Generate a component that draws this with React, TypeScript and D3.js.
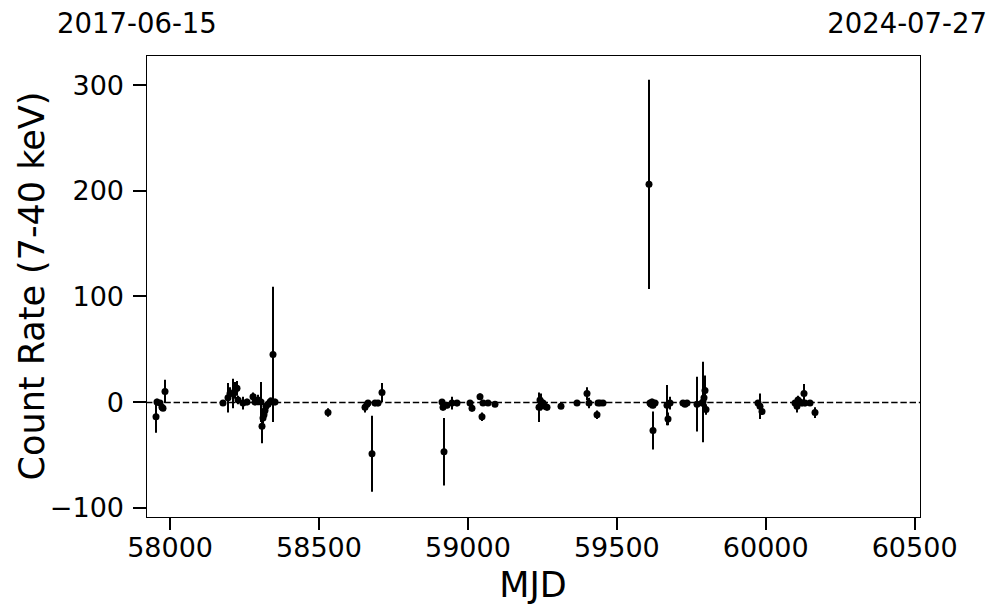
import React from "react";
import * as d3 from "d3";

const mjd = [
  57953, 57956, 57966, 57973, 57976, 57983,
  58178, 58194, 58201, 58211, 58218, 58225, 58228, 58245, 58258, 58278, 58285,
  58295, 58305, 58309, 58312, 58315, 58319, 58322, 58329, 58335, 58340, 58345, 58352,
  58530,
  58654, 58661, 58664, 58678, 58688, 58698, 58711,
  58913, 58916, 58920, 58930, 58947, 58963,
  59007, 59014, 59041, 59047, 59051, 59067, 59091,
  59239, 59242, 59246, 59249, 59252, 59259, 59266,
  59313, 59366, 59400, 59407, 59434, 59438, 59444, 59454,
  59608, 59612, 59615, 59618, 59620, 59622, 59628,
  59668, 59672, 59678,
  59722, 59729, 59736,
  59769, 59786, 59789, 59793, 59796, 59799,
  59974, 59981, 59987,
  60098, 60105, 60108, 60115, 60122, 60129, 60132, 60149, 60166,
];
const rate = [
  -14, 0, -1, -5, -6, 10,
  -1, 4, 8, 8, 11, 13, 2, -1, 0, 5, 0,
  2, 0, -23, -15, -12, -8, -4, -2, 0, 1, 45, 0,
  -10,
  -5, -2, -1, -49, -1, -1, 9,
  0, -5, -47, -3, -1, -1,
  -1, -6, 5, -14, -1, -1, -2,
  -5, 2, 0, -3, -1, -4, -5,
  -4, -1, 8, -1, -12, -1, -1, -1,
  206, -1, -2, 0, -3, -27, -1,
  -3, -16, -1,
  -1, -2, -1,
  -2, -1, 0, 4, 11, -7,
  -1, -4, -9,
  -1, -4, 2, 0, -1, 8, -1, -1, -10,
];
const err = [
  15, 3, 2, 3, 2, 11,
  2, 14, 6, 14, 8, 7, 4, 6, 3, 4, 3,
  5, 19, 16, 5, 4, 4, 3, 3, 4, 3, 64, 3,
  4,
  5, 3, 2, 36, 3, 3, 9,
  2, 3, 32, 3, 6, 3,
  2, 3, 3, 4, 2, 2, 2,
  14, 5, 8, 4, 3, 3, 3,
  2, 2, 6, 5, 4, 2, 2, 2,
  99, 3, 4, 3, 3, 18, 3,
  19, 6, 6,
  2, 2, 2,
  26, 3, 38, 9, 14, 5,
  3, 12, 3,
  3, 6, 4, 3, 3, 9, 3, 2, 5,
];
const xTicks = [58000, 58500, 59000, 59500, 60000, 60500];
const yTicks = [-100, 0, 100, 200, 300];
const startLabel = "2017-06-15";
const endLabel = "2024-07-27";

const W = 997, H = 613;
const L = 146, R = 920, T = 55, B = 517;
const FONT = "DejaVu Sans, sans-serif";

export default function App() {
  const x = d3.scaleLinear().domain([57919, 60518]).range([L, R]);
  const y = d3.scaleLinear().domain([-108.8, 328.4]).range([B, T]);
  const pts = mjd.map((m, i) => ({ m, v: rate[i], e: err[i] }));
  const fmt = (v: number) => (v < 0 ? "\u2212" + Math.abs(v) : String(v));
  const px = (m: number) => Math.round(x(m));
  return (
    <svg width={W} height={H} style={{ position: "absolute", left: 0, top: 0, background: "#fff" }}>
      <rect x={0} y={0} width={W} height={H} fill="#fff" />
      <defs>
        <clipPath id="plot">
          <rect x={L} y={T} width={R - L} height={B - T} />
        </clipPath>
      </defs>
      <g clipPath="url(#plot)">
        <line x1={L} x2={R} y1={Math.round(y(0)) + 0.5} y2={Math.round(y(0)) + 0.5} stroke="#000" strokeWidth={1.5} strokeDasharray="6.4,2.8" />
        {pts.map((p, i) => (
          <line key={"e" + i} x1={px(p.m)} x2={px(p.m)} y1={y(p.v - p.e)} y2={y(p.v + p.e)} stroke="#000" strokeWidth={2} />
        ))}
        {pts.map((p, i) => (
          <circle key={"c" + i} cx={px(p.m)} cy={y(p.v)} r={3.5} fill="#000" />
        ))}
      </g>
      <rect x={L + 0.5} y={T + 0.5} width={R - L} height={B - T} fill="none" stroke="#000" strokeWidth={1} />
      {xTicks.map((t) => (
        <g key={"x" + t}>
          <line x1={px(t)} x2={px(t)} y1={B} y2={B + 13} stroke="#000" strokeWidth={2} />
          <text x={x(t)} y={557} textAnchor="middle" fontFamily={FONT} fontSize={27} fill="#000">{t}</text>
        </g>
      ))}
      {yTicks.map((t) => (
        <g key={"y" + t}>
          <line x1={L - 13} x2={L} y1={Math.round(y(t))} y2={Math.round(y(t))} stroke="#000" strokeWidth={2} />
          <text x={124} y={y(t)} dy="0.36em" textAnchor="end" fontFamily={FONT} fontSize={27} fill="#000">{fmt(t)}</text>
        </g>
      ))}
      <text x={(L + R) / 2} y={597} textAnchor="middle" fontFamily={FONT} fontSize={35} fill="#000">MJD</text>
      <text transform={`translate(44,${(T + B) / 2}) rotate(-90)`} textAnchor="middle" fontFamily={FONT} fontSize={35} fill="#000">Count Rate (7-40 keV)</text>
      <text x={57} y={33} textAnchor="start" fontFamily={FONT} fontSize={27.5} fill="#000">{startLabel}</text>
      <text x={987} y={33} textAnchor="end" fontFamily={FONT} fontSize={27.5} fill="#000">{endLabel}</text>
    </svg>
  );
}
